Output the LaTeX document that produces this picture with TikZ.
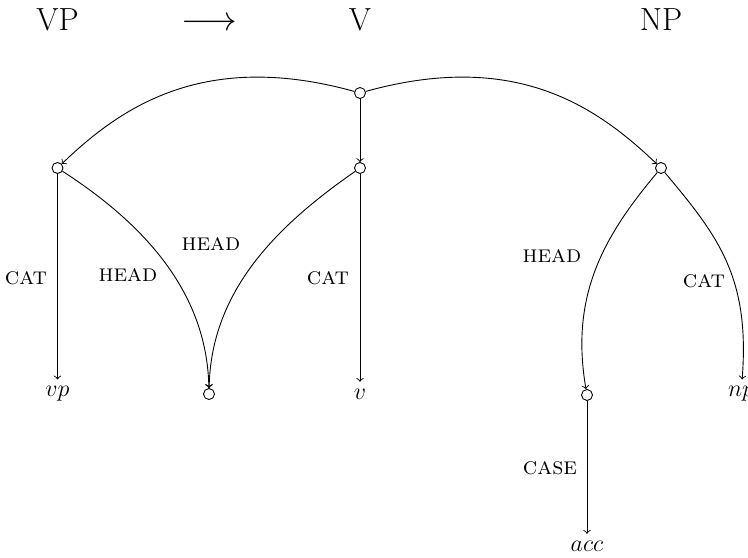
\documentclass[tikz,border=0pt]{standalone}
\begin{document}
\begin{tikzpicture}[x=0.5pt,y=-0.5pt,
  fs/.style={circle,draw,fill=white,inner sep=0pt,minimum size=5.5pt,line width=0.45pt},
  lab/.style={font=\fontsize{12.2}{14}\selectfont\scshape},
  val/.style={font=\fontsize{12.2}{14}\selectfont},
  big/.style={font=\fontsize{16}{19}\selectfont,anchor=base},
  arr/.style={->,line width=0.45pt}]
\useasboundingbox (0,0) rectangle (748,557);
% header
\node[big] (VP) at (57.5,30) {VP};
\node[big] (to) at (209,30) {$\longrightarrow$};
\node[big] (V) at (360,30) {V};
\node[big] (NP) at (661,30) {NP};
% feature nodes
\node[fs] (root) at (360,93) {};
\node[fs] (l) at (57.5,168) {};
\node[fs] (m) at (360,168) {};
\node[fs] (r) at (661,168) {};
\node[fs] (b) at (209,394) {};
\node[fs] (h) at (587,395) {};
% values
\node[val] (vp) at (57.5,394) {$vp$};
\node[val] (v) at (360,394) {$v$};
\node[val] (np) at (741,394) {$np$};
\node[val] (acc) at (587,546) {$acc$};
% edges
\draw[arr] (root) .. controls (205,50) and (122,106) .. (l);
\draw[arr] (root) .. controls (515,50) and (596,106) .. (r);
\draw[arr] (root) -- (m);
\draw[arr] (l) -- (vp);
\draw[arr] (l) .. controls (141,222) and (207,290) .. (b);
\draw[arr] (m) .. controls (278,225) and (211,290) .. (b);
\draw[arr] (m) -- (v);
\draw[arr] (r) .. controls (603,237) and (570,296) .. (h);
\draw[arr] (r) .. controls (719,237) and (750,278) .. (np);
\draw[arr] (h) -- (acc);
% labels
\node[lab] (cat1) at (26,278) {cat};
\node[lab] (head1) at (128,275) {head};
\node[lab] (head2) at (211,244) {head};
\node[lab] (cat2) at (328,278) {cat};
\node[lab] (head3) at (552,256) {head};
\node[lab] (cat3) at (704,281) {cat};
\node[lab] (case) at (550,468) {case};
\end{tikzpicture}
\end{document}
